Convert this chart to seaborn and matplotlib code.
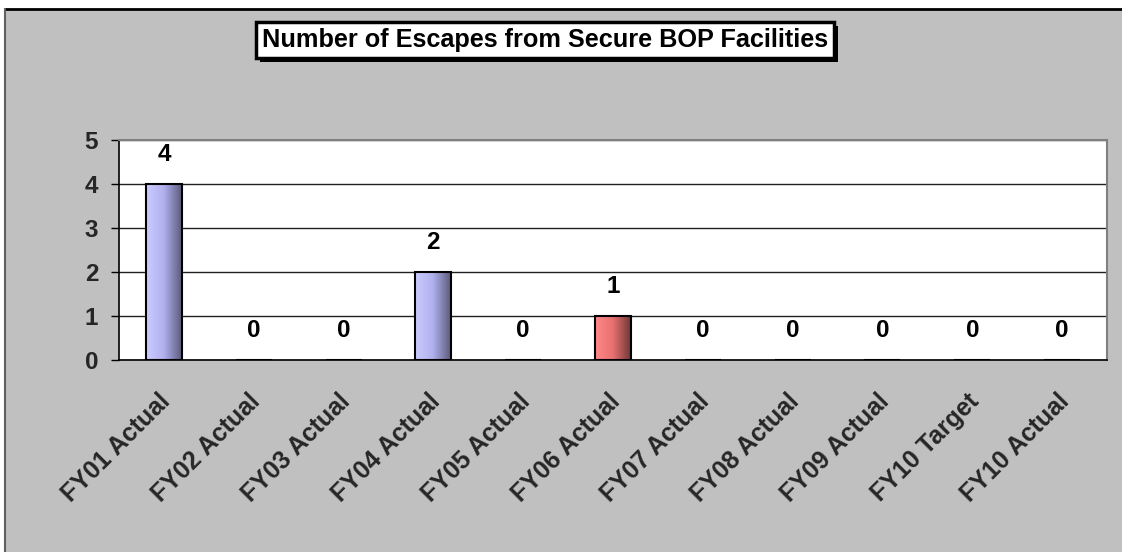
import numpy as np
import pandas as pd
import matplotlib
matplotlib.use("Agg")
import matplotlib.pyplot as plt
import matplotlib.patheffects as pe
import matplotlib.transforms as mtransforms
from matplotlib.colors import LinearSegmentedColormap
import seaborn as sns

categories = ["FY01 Actual", "FY02 Actual", "FY03 Actual", "FY04 Actual", "FY05 Actual",
              "FY06 Actual", "FY07 Actual", "FY08 Actual", "FY09 Actual", "FY10 Target",
              "FY10 Actual"]
escapes = [4, 0, 0, 2, 0, 1, 0, 0, 0, 0, 0]
highlight = "FY06 Actual"
title = "Number of Escapes from Secure BOP Facilities"

df = pd.DataFrame({"year": categories, "escapes": escapes})

sns.set_style("white")
plt.rcParams["font.family"] = ["Liberation Sans", "DejaVu Sans"]
plt.rcParams["font.weight"] = "bold"

fig = plt.figure(figsize=(11.22, 5.52), dpi=100, facecolor="white")

# grey chart area like the spreadsheet frame
W, H = 1122, 552
bg = plt.Rectangle((5 / W, 0), 1, 1 - 9 / H, transform=fig.transFigure,
                   facecolor="#C0C0C0", edgecolor="none", zorder=-10)
fig.patches.append(bg)
fig.add_artist(plt.Line2D([5 / W, 1], [1 - 9 / H, 1 - 9 / H], transform=fig.transFigure,
                          color="black", lw=2))
fig.add_artist(plt.Line2D([5 / W, 5 / W], [0, 1 - 9 / H], transform=fig.transFigure,
                          color="#606060", lw=1.5))

ax = fig.add_axes([119 / W, 1 - 360 / H, (1107 - 119) / W, (360 - 140) / H])
ax.set_facecolor("white")

pal = {c: ("#E07070" if c == highlight else "#9999DD") for c in categories}
sns.barplot(data=df, x="year", y="escapes", hue="year", palette=pal, legend=False,
            width=0.4, edgecolor="black", linewidth=1.5, ax=ax, zorder=3)

# horizontal gradient fill on each bar
blue_cm = LinearSegmentedColormap.from_list("b", ["#CCCCFF", "#B0B0EE", "#5C5C7C"])
red_cm = LinearSegmentedColormap.from_list("r", ["#FF8888", "#E87070", "#703838"])
grad = np.linspace(0, 1, 64).reshape(1, -1)
for patch, cat in zip(ax.patches, categories):
    h = patch.get_height()
    if h <= 0:
        continue
    x0 = patch.get_x()
    w = patch.get_width()
    cm = red_cm if cat == highlight else blue_cm
    im = ax.imshow(grad, cmap=cm, aspect="auto", extent=(x0, x0 + w, 0, h),
                   zorder=3.5, interpolation="bicubic")
    im.set_clip_path(patch)
    patch.set_zorder(4)
    patch.set_facecolor("none")

ax.set_xlim(-0.5, len(categories) - 0.5)
ax.set_ylim(0, 5)
ax.set_yticks(range(0, 6))
ax.yaxis.grid(True, color="#202020", lw=1)
ax.set_axisbelow(True)

for i, v in enumerate(escapes):
    ax.annotate(str(v), (i, v), xytext=(0, 21), textcoords="offset points",
                ha="center", va="center", fontsize=17.5, fontweight="bold", color="black")

ax.set_xlabel("")
ax.set_ylabel("")
ax.set_xticks(range(len(categories)))
ax.set_xticklabels(categories, rotation=45, ha="right", va="center", rotation_mode="anchor",
                   fontsize=18, fontweight="bold")
ax.tick_params(axis="x", which="major", length=0, pad=27)
shift = mtransforms.ScaledTranslation(3 / 100, 0, fig.dpi_scale_trans)
for lab in ax.get_xticklabels():
    lab.set_transform(lab.get_transform() + shift)
ax.set_xticks(np.arange(-0.5, len(categories)), minor=True)
ax.tick_params(axis="x", which="minor", length=6, width=1, color="black", direction="out")
ax.tick_params(axis="y", length=6, width=1, color="black", direction="out", labelsize=17.5, pad=9)
ax.tick_params(left=True, bottom=True)
for lab in ax.get_yticklabels():
    lab.set_fontweight("bold")

for s in ["left", "bottom"]:
    ax.spines[s].set_color("black")
    ax.spines[s].set_linewidth(1.2)
for s in ["top", "right"]:
    ax.spines[s].set_color("#808080")
    ax.spines[s].set_linewidth(1.5)

t = fig.text(545 / W, 1 - 40 / H, title, ha="center", va="center", fontsize=18.2,
             fontweight="bold", color="black",
             bbox=dict(boxstyle="square,pad=0.24", facecolor="white", edgecolor="black", lw=2.5))
t.get_bbox_patch().set_path_effects([
    pe.SimplePatchShadow(offset=(3, -3), shadow_rgbFace="black", alpha=1.0),
    pe.Normal()])

fig.savefig("out.png", dpi=100, facecolor=fig.get_facecolor())
